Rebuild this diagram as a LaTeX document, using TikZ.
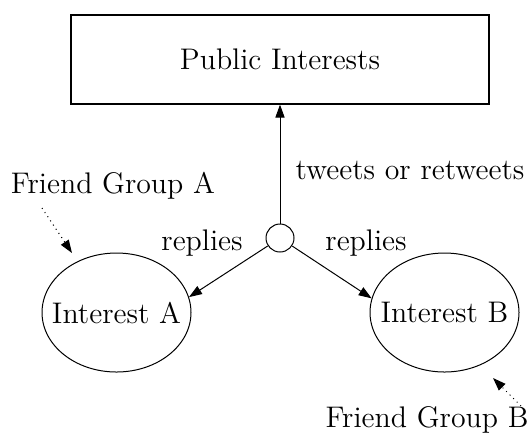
\documentclass[tikz,border=0pt]{standalone}
\usetikzlibrary{arrows.meta,shapes.geometric}
\begin{document}
\begin{tikzpicture}[x=0.5pt,y=-0.5pt,
  every node/.style={font=\fontsize{14.9}{17}\selectfont},
  box/.style={draw,line width=0.6pt,minimum width=209pt,minimum height=44.5pt,inner sep=0pt},
  oval/.style={draw,ellipse,line width=0.5pt,minimum width=74.5pt,minimum height=59.5pt,inner sep=0pt},
  hub/.style={draw,circle,line width=0.5pt,minimum size=14pt,inner sep=0pt},
  lbl/.style={inner sep=0pt},
  edgearrow/.style={line width=0.5pt,-{Triangle[length=6.5pt,width=4.6pt]}},
  dotarrow/.style={line width=0.5pt,dotted,-{Triangle[length=6.5pt,width=4.6pt]}}]
\useasboundingbox (0,0) rectangle (529,436);
\node[box] (P) at (280,59.5) {Public Interests};
\node[hub] (c) at (280,238) {};
\node[oval] (A) at (116.5,312.5) {};
\node[lbl] (At) at (A) {Interest A};
\node[oval] (B) at (444.5,312.5) {};
\node[lbl] (Bt) at (B) {Interest B};
\node[lbl] (tw) at (410,170) {tweets or retweets};
\node[lbl] (rA) at (202,243) {replies};
\node[lbl] (rB) at (366,243) {replies};
\node[lbl] (fA) at (113,186) {Friend Group A};
\node[lbl] (fB) at (427,420) {Friend Group B};
\coordinate (tA) at (42,208);
\coordinate (hA) at (72,253);
\coordinate (tB) at (521,406);
\coordinate (hB) at (493,378);
\draw[edgearrow] (c) -- (P);
\draw[edgearrow] (c) -- (A.12);
\draw[edgearrow] (c) -- (B.169);
\draw[dotarrow] (tA) -- (hA);
\draw[dotarrow] (tB) -- (hB);
\end{tikzpicture}
\end{document}
